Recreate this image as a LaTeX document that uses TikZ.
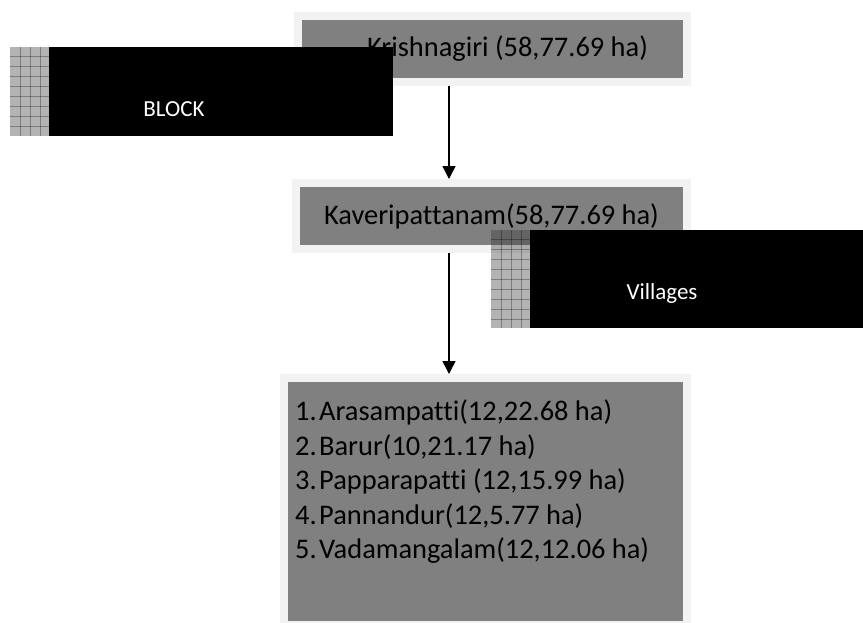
\documentclass[tikz,border=0pt]{standalone}
\usepackage{fontspec}
\setmainfont[Ligatures=NoCommon]{Carlito}
\usetikzlibrary{arrows.meta}
\definecolor{boxgray}{HTML}{808080}
\definecolor{rimgray}{HTML}{F2F2F2}
\definecolor{checkfill}{HTML}{383838}
\begin{document}
\begin{tikzpicture}[x=1pt,y=-1pt,
  graybox/.style={draw=rimgray,line width=8pt,fill=boxgray,inner sep=0pt,
    font=\fontsize{28.4pt}{34.5pt}\selectfont,text=black},
  blackbox/.style={fill=black,inner sep=0pt},
  whitelabel/.style={text=white,font=\fontsize{23pt}{28pt}\selectfont},
  checker/.style={fill=checkfill,fill opacity=0.38},
  checkgrid/.style={draw=black,draw opacity=0.3,line width=1pt},
  arr/.style={line width=1.5pt,-{Triangle[width=13pt,length=13pt]}}]
\useasboundingbox (0,0) rectangle (863,622);

% Krishnagiri box
\node[graybox,minimum width=389pt,minimum height=66.5pt] (krish) at (492.5,48.75)
  {\hspace*{30pt}Krishnagiri (58,77.69 ha)};

% BLOCK label
\fill[checker] (10,47) rectangle (49,136);
\begin{scope}
\clip (10,47) rectangle (49,136);
\foreach \gx in {20.7,30.7,40.7} \draw[checkgrid] (\gx,47) -- (\gx,136);
\foreach \gy in {56.7,66.7,76.7,86.7,96.7,106.7,116.7,126.7} \draw[checkgrid] (10,\gy) -- (49,\gy);
\end{scope}
\node[blackbox,minimum width=344pt,minimum height=89pt,
  label={[whitelabel,xshift=-47pt,yshift=-17.5pt]center:BLOCK}] (block) at (221,91.5) {};

% Kaveripattanam box
\node[graybox,minimum width=391pt,minimum height=66pt] (kav) at (491.5,216)
  {Kaveripattanam(58,77.69 ha)};

% Villages label
\fill[checker] (491,230) rectangle (530,328);
\begin{scope}
\clip (491,230) rectangle (530,328);
\foreach \gx in {501.5,511.5,521.5} \draw[checkgrid] (\gx,230) -- (\gx,328);
\foreach \gy in {239.5,249.5,259.5,269.5,279.5,289.5,299.5,309.5,319.5} \draw[checkgrid] (491,\gy) -- (530,\gy);
\end{scope}
\node[blackbox,minimum width=333pt,minimum height=98pt,
  label={[whitelabel,xshift=-34.5pt,yshift=-14pt]center:Villages}] (vill) at (696.5,279) {};

% Village list box
\node[graybox,minimum width=403pt,minimum height=247pt] (list) at (485.5,501.5) {};
\node[anchor=north west,inner sep=0pt,align=left,text=black,
  font=\fontsize{28.4pt}{34.5pt}\selectfont] (listtext) at (295,400)
  {\makebox[24pt][l]{1.}Arasampatti(12,22.68 ha)\\
   \makebox[24pt][l]{2.}Barur(10,21.17 ha)\\
   \makebox[24pt][l]{3.}Papparapatti (12,15.99 ha)\\
   \makebox[24pt][l]{4.}Pannandur(12,5.77 ha)\\
   \makebox[24pt][l]{5.}Vadamangalam(12,12.06 ha)};

% connectors
\draw[arr] ([xshift=-43.5pt]krish.south) -- ([xshift=-42.5pt]kav.north);
\draw[arr] ([xshift=-42.5pt]kav.south) -- ([xshift=-36.5pt]list.north);
\end{tikzpicture}
\end{document}
